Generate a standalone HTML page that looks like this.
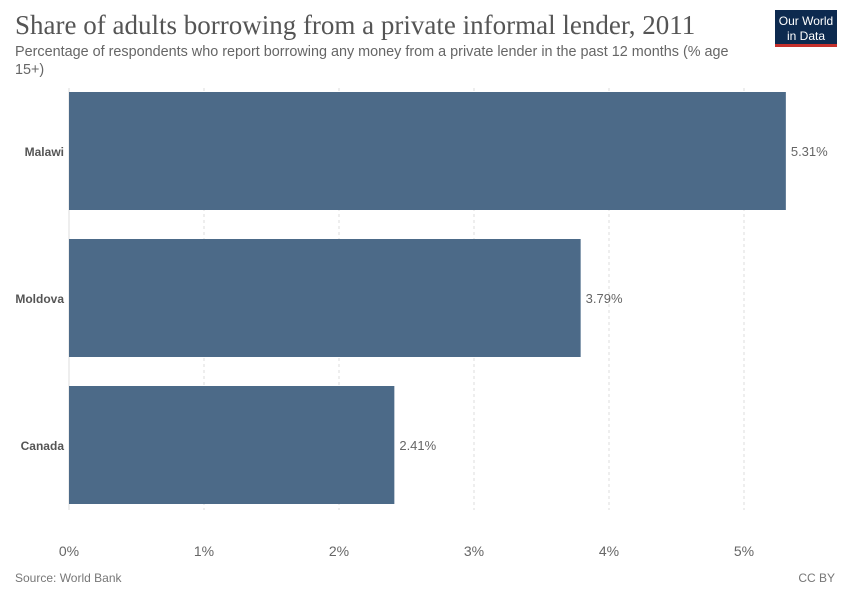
<!DOCTYPE html>
<html><head><meta charset="utf-8"><style>
body{margin:0;background:#fff;width:850px;height:600px;overflow:hidden;font-family:"Liberation Sans",sans-serif}
</style></head><body>
<svg width="850" height="600" xmlns="http://www.w3.org/2000/svg">
<text x="15" y="34" font-family="Liberation Serif,serif" font-size="27" fill="#555">Share of adults borrowing from a private informal lender, 2011</text>
<text x="15" y="56" font-size="14.4" fill="#666">Percentage of respondents who report borrowing any money from a private lender in the past 12 months (% age</text>
<text x="15" y="74" font-size="14.4" fill="#666">15+)</text>
<g>
<rect x="775" y="10" width="62" height="36" fill="#0d2a4f"/>
<rect x="775" y="44" width="62" height="3" fill="#c5302c"/>
<text x="806" y="25" font-size="12" fill="#fff" text-anchor="middle">Our World</text>
<text x="806" y="40" font-size="12" fill="#fff" text-anchor="middle">in Data</text>
</g>
<g id="grid"></g>
<g id="bars"></g>
<g id="ticks"></g>
<text x="15" y="582" font-size="12" fill="#777">Source: World Bank</text>
<text x="835" y="582" font-size="12" fill="#777" text-anchor="end">CC BY</text>
</svg>
<script>
const categories=["Malawi","Moldova","Canada"];
const values=[5.31,3.79,2.41];
const tickValues=[0,1,2,3,4,5];
const tickLabels=["0%","1%","2%","3%","4%","5%"];
const NS="http://www.w3.org/2000/svg";
const x0=69,pxPer=135,top0=92,step=147,bh=118;
const xs=v=>x0+v*pxPer;
function mk(t,a,p){const e=document.createElementNS(NS,t);for(const k in a)e.setAttribute(k,a[k]);p.appendChild(e);return e;}
const grid=document.getElementById('grid'),bars=document.getElementById('bars'),ticks=document.getElementById('ticks');
tickValues.forEach((v,i)=>{
 const l=mk('line',{x1:xs(v),x2:xs(v),y1:88,y2:510,stroke:'#ddd','stroke-dasharray':v===0?'none':'3,3'},grid);
 
 
 const t=mk('text',{x:xs(v),y:556,'font-size':14,fill:'#666','text-anchor':'middle'},ticks);
 t.textContent=tickLabels[i];
 
 
});
categories.forEach((c,i)=>{
 const y=top0+i*step;
 const r=mk('rect',{x:x0,y:y,width:xs(values[i])-x0,height:bh,fill:'#4c6a88'},bars);
 
 
 const lb=mk('text',{x:64,y:y+bh/2+5,'font-size':12,'font-weight':'bold',fill:'#555','text-anchor':'end'},bars);
 lb.textContent=c;
 
 
 const vl=mk('text',{x:xs(values[i])+5,y:y+bh/2+5,'font-size':13,fill:'#666'},bars);
 vl.textContent=values[i].toFixed(2)+'%';
 
 
});
</script>
</body></html>
